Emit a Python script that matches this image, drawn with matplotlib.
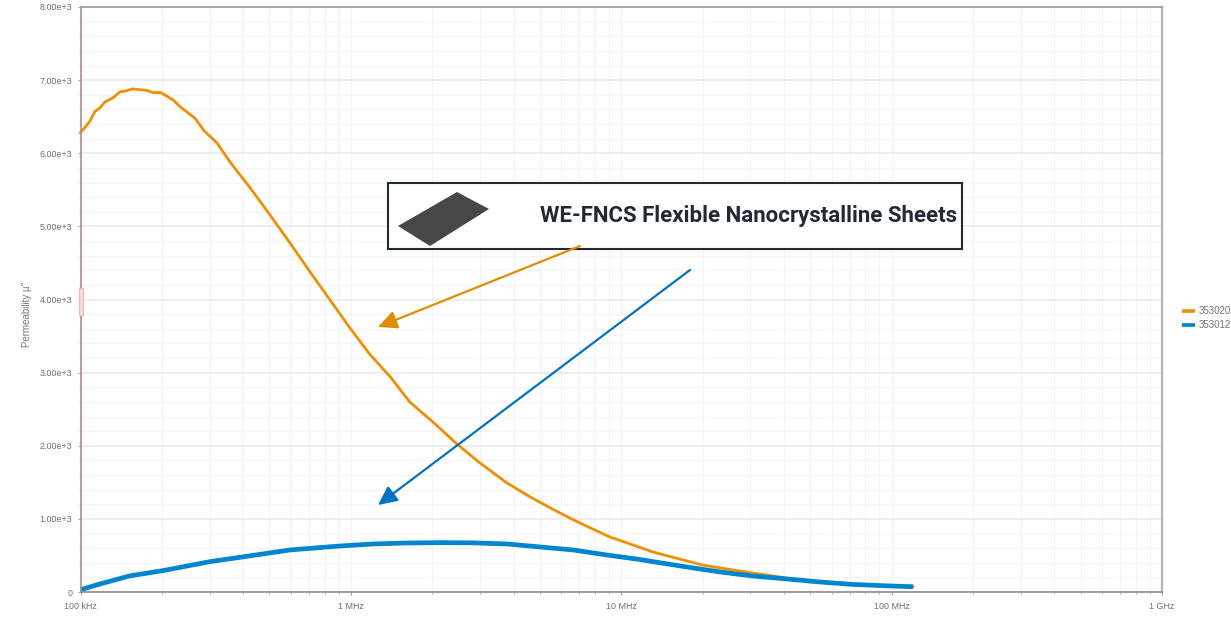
import matplotlib
matplotlib.use('Agg')
import matplotlib.pyplot as plt
from matplotlib.patches import Polygon, Rectangle
from matplotlib.ticker import FixedLocator, FixedFormatter, NullFormatter

W, H = 1231, 617

freq_orange = [1.0e5, 1.08e5, 1.13e5, 1.18e5, 1.23e5, 1.32e5, 1.40e5, 1.46e5, 1.56e5, 1.76e5, 1.85e5,
               1.98e5, 2.2e5, 2.33e5, 2.65e5, 2.86e5, 3.2e5, 3.57e5, 4.24e5, 5.02e5, 5.95e5,
               7.06e5, 8.37e5, 9.92e5, 1.18e6, 1.40e6, 1.65e6, 2.01e6, 2.49e6, 3.0e6, 3.78e6,
               4.6e6, 5.93e6, 7.03e6, 9.08e6, 1.105e7, 1.31e7, 1.75e7, 2.0e7, 2.52e7, 3.07e7,
               4.1e7, 5.43e7, 7.2e7, 1.0e8, 1.2e8]
perm_orange = [6280, 6430, 6570, 6620, 6700, 6760, 6840, 6850, 6880, 6860, 6830,
               6830, 6730, 6640, 6480, 6310, 6140, 5882, 5527, 5157, 4774,
               4378, 3995, 3611, 3242, 2941, 2599, 2326, 2011, 1765, 1491,
               1300, 1081, 944, 752, 643, 547, 424, 369, 308, 260,
               190, 140, 103, 82, 72]

freq_blue = [1.0e5, 1.18e5, 1.52e5, 2.0e5, 3.01e5, 3.99e5, 5.95e5, 9.11e5, 1.21e6, 1.61e6,
             2.13e6, 2.83e6, 3.78e6, 5.0e6, 6.63e6, 8.85e6, 1.17e7, 1.31e7, 1.75e7, 2.32e7,
             3.07e7, 4.1e7, 5.43e7, 7.2e7, 1.0e8, 1.2e8]
perm_blue = [30, 110, 220, 290, 415, 480, 575, 629, 657, 670,
             675, 672, 657, 616, 575, 506, 445, 415, 342, 274,
             219, 178, 137, 103, 82, 72]

y_major = [0, 1000, 2000, 3000, 4000, 5000, 6000, 7000, 8000]
y_labels = ['0', '1.00e+3', '2.00e+3', '3.00e+3', '4.00e+3', '5.00e+3', '6.00e+3', '7.00e+3', '8.00e+3']
x_major = [1e5, 1e6, 1e7, 1e8, 1e9]
x_labels = ['100 kHz', '1 MHz', '10 MHz', '100 MHz', '1 GHz']

plt.rcParams['font.family'] = ['Liberation Sans', 'DejaVu Sans']

fig = plt.figure(figsize=(W / 100, H / 100), dpi=100)
left, right, top, bottom = 80.5, 1162, 7, 592
ax = fig.add_axes([left / W, 1 - bottom / H, (right - left) / W, (bottom - top) / H])

ax.set_xscale('log')
ax.set_xlim(1e5, 1e9)
ax.set_ylim(0, 8000)

ax.xaxis.set_major_locator(FixedLocator(x_major))
ax.xaxis.set_major_formatter(FixedFormatter(x_labels))
x_minor = [m * d for d in x_major[:-1] for m in range(2, 10)]
ax.xaxis.set_minor_locator(FixedLocator(x_minor))
ax.xaxis.set_minor_formatter(NullFormatter())
ax.yaxis.set_major_locator(FixedLocator(y_major))
ax.yaxis.set_major_formatter(FixedFormatter(y_labels))
ax.yaxis.set_minor_locator(FixedLocator([v for v in range(0, 8001, 200) if v % 1000]))

ax.set_axisbelow(True)
ax.grid(which='major', axis='y', color='#e9e9e9', lw=1.1)
ax.grid(which='minor', axis='y', color='#f4f4f4', lw=0.9)
ax.grid(which='both', axis='x', color='#f3f3f3', lw=0.8)

ax.tick_params(axis='both', which='major', labelsize=6.4, labelcolor='#6e6e6e', color='#999999', length=2.5, width=0.7)
ax.tick_params(axis='both', which='minor', color='#b0b0b0', length=1.5, width=0.6)
ax.tick_params(axis='x', which='major', pad=4.5)
ax.tick_params(axis='y', which='major', pad=3.5)

ax.spines['left'].set_color('#b58a8a')
ax.spines['left'].set_linewidth(1.2)
ax.spines['top'].set_color('#999999')
ax.spines['top'].set_linewidth(1.2)
ax.spines['bottom'].set_color('#8c8c8c')
ax.spines['bottom'].set_linewidth(1.2)
ax.spines['right'].set_color('#b4b4b4')
ax.spines['right'].set_linewidth(1.6)

ax.plot(freq_orange, perm_orange, color='#f09000', lw=2.0, label='353020', clip_on=False)
ax.plot(freq_blue, perm_blue, color='#0085cf', lw=3.4, label='353012', clip_on=False, solid_capstyle='butt')

# everything below is placed in picture pixels
over = fig.add_axes([0, 0, 1, 1], facecolor='none')
over.set_xlim(0, W)
over.set_ylim(H, 0)
over.axis('off')

over.text(27, 314, 'Permeability µ"', rotation=90, ha='center', va='center', fontsize=7, color='#777777')

# drag handle on the y axis
over.add_patch(Rectangle((78.5, 288), 4, 27, facecolor='#fbdada', edgecolor='#f0b8b8', lw=0.8))

# callout box
over.add_patch(Rectangle((388, 183), 574, 66, facecolor='white', edgecolor='#1f2a33', lw=1.5))
over.add_patch(Polygon([(457, 192), (489, 209), (430, 246), (398, 226)], facecolor='#474747', edgecolor='none'))
over.text(957, 216, 'WE-FNCS Flexible Nanocrystalline Sheets', ha='right', va='center',
          fontsize=16, fontweight='bold', family=['Roboto', 'DejaVu Sans'], color='#1f2a36')

over.annotate('', xy=(378, 327), xytext=(580, 246),
              arrowprops=dict(arrowstyle='-|>,head_length=1.15,head_width=0.55', color='#e08e00', lw=1.6, shrinkA=0, shrinkB=0))
over.annotate('', xy=(378, 505), xytext=(690, 270),
              arrowprops=dict(arrowstyle='-|>,head_length=1.15,head_width=0.55', color='#0072c6', lw=1.6, shrinkA=0, shrinkB=0))

# legend runs off the right edge, like the original
handles, labels = ax.get_legend_handles_labels()
for handle, label, y in zip(handles, labels, [311, 325]):
    over.plot([1182, 1195], [y, y], color=handle.get_color(), lw=2.6, solid_capstyle='butt')
    over.text(1199, y, label, ha='left', va='center', fontsize=7, color='#777777')

fig.savefig('out.png', dpi=100)
